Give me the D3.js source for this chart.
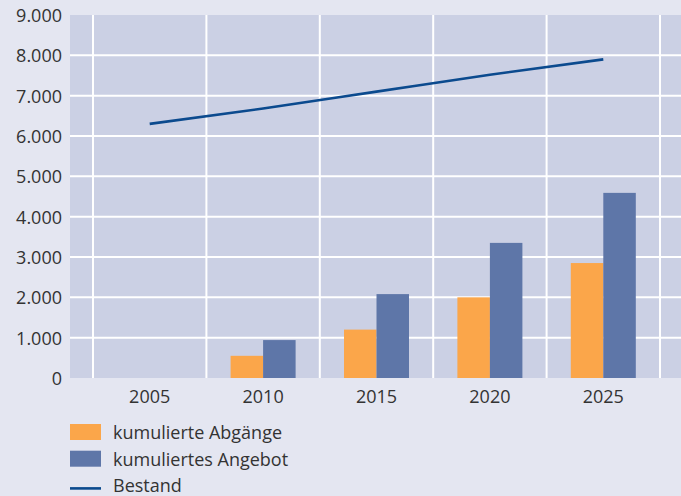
<!DOCTYPE html>
<html>
<head>
<meta charset="utf-8">
<script src="https://cdn.jsdelivr.net/npm/d3@7"></script>
<style>
  body { margin: 0; background: #e4e6f1; }
  svg { display: block; }
  text { font-family: "Open Sans", "Noto Sans", sans-serif; fill: #333; }
</style>
</head>
<body>
<div id="chart"></div>
<script>
// data
var years = ["2005", "2010", "2015", "2020", "2025"];
var abgaenge = [0, 550, 1200, 2000, 2850];
var angebot = [0, 940, 2080, 3350, 4590];
var bestand = [6300, 6680, 7100, 7520, 7900];
var yTicks = [0, 1000, 2000, 3000, 4000, 5000, 6000, 7000, 8000, 9000];
var legendLabels = ["kumulierte Abgänge", "kumuliertes Angebot", "Bestand"];

var width = 681, height = 496;
var colOrange = "#fba64a", colBlue = "#5e76a8", colLine = "#0b4a8e";

var svg = d3.select("#chart").append("svg")
    .attr("width", width)
    .attr("height", height);

var plot = { left: 70, right: 681, top: 15, bottom: 378 };

var x = d3.scaleBand()
    .domain(years)
    .range([93, 660]);

var y = d3.scaleLinear()
    .domain([0, 9000])
    .range([plot.bottom, plot.top]);

// plot background
svg.append("rect")
    .attr("x", plot.left)
    .attr("y", plot.top)
    .attr("width", plot.right - plot.left)
    .attr("height", plot.bottom - plot.top)
    .attr("fill", "#cbd0e4");

// gridlines
svg.append("g").selectAll("line")
    .data(yTicks.filter(function (d) { return d > 0 && d < 9000; }))
    .enter().append("line")
    .attr("x1", plot.left).attr("x2", plot.right)
    .attr("y1", function (d) { return y(d); })
    .attr("y2", function (d) { return y(d); })
    .attr("stroke", "#fff").attr("stroke-width", 2);

var vLines = years.map(function (d) { return x(d); }).concat([x(years[years.length - 1]) + x.bandwidth()]);
svg.append("g").selectAll("line")
    .data(vLines)
    .enter().append("line")
    .attr("x1", function (d) { return d; })
    .attr("x2", function (d) { return d; })
    .attr("y1", plot.top).attr("y2", plot.bottom)
    .attr("stroke", "#fff").attr("stroke-width", 2);

var barW = 32.5;

// bars
svg.append("g").selectAll("rect")
    .data(abgaenge)
    .enter().append("rect")
    .attr("x", function (d, i) { return x(years[i]) + x.bandwidth() / 2 - barW; })
    .attr("y", function (d) { return y(d); })
    .attr("width", barW)
    .attr("height", function (d) { return y(0) - y(d); })
    .attr("fill", colOrange);

svg.append("g").selectAll("rect")
    .data(angebot)
    .enter().append("rect")
    .attr("x", function (d, i) { return x(years[i]) + x.bandwidth() / 2; })
    .attr("y", function (d) { return y(d); })
    .attr("width", barW)
    .attr("height", function (d) { return y(0) - y(d); })
    .attr("fill", colBlue);

// line
var line = d3.line()
    .x(function (d, i) { return x(years[i]) + x.bandwidth() / 2; })
    .y(function (d) { return y(d); })
    .curve(d3.curveMonotoneX);

svg.append("path")
    .datum(bestand)
    .attr("d", line)
    .attr("fill", "none")
    .attr("stroke", colLine)
    .attr("stroke-width", 2.6);

// y axis labels
var fmt = function (d) { return d3.format(",")(d).replace(/,/g, "."); };
svg.append("g").selectAll("text")
    .data(yTicks)
    .enter().append("text")
    .attr("x", 62)
    .attr("y", function (d) { return y(d) + 7; })
    .attr("text-anchor", "end")
    .attr("font-size", 18)
    .text(fmt);

// x axis labels
svg.append("g").selectAll("text")
    .data(years)
    .enter().append("text")
    .attr("x", function (d) { return x(d) + x.bandwidth() / 2; })
    .attr("y", 403)
    .attr("text-anchor", "middle")
    .attr("font-size", 18)
    .text(function (d) { return d; });

// legend
var lg = svg.append("g").attr("transform", "translate(70,424)");
var rowH = 26.7;
lg.append("rect").attr("x", 0).attr("y", 0).attr("width", 31).attr("height", 16).attr("fill", colOrange);
lg.append("rect").attr("x", 0).attr("y", rowH).attr("width", 31).attr("height", 16).attr("fill", colBlue);
lg.append("line").attr("x1", 0).attr("x2", 31).attr("y1", 2 * rowH + 11).attr("y2", 2 * rowH + 11)
    .attr("stroke", colLine).attr("stroke-width", 2.6);
lg.selectAll("text")
    .data(legendLabels)
    .enter().append("text")
    .attr("x", 43)
    .attr("y", function (d, i) { return i * rowH + 15; })
    .attr("font-size", 18)
    .text(function (d) { return d; });
</script>
</body>
</html>
